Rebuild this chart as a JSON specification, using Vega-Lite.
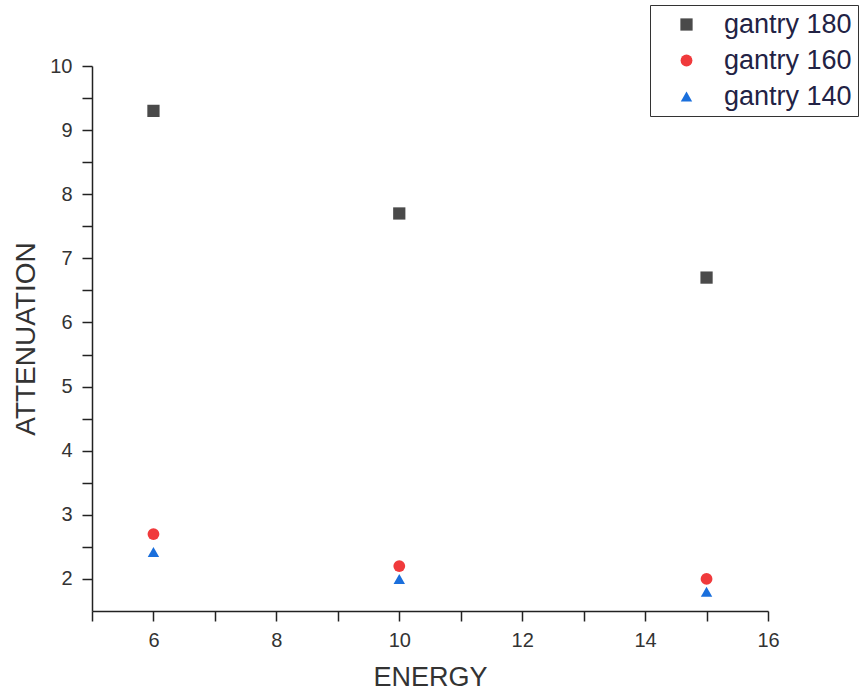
{
  "$schema": "https://vega.github.io/schema/vega-lite/v6.json",
  "width": 676,
  "height": 545,
  "autosize": {"type": "none"},
  "padding": {"left": 92, "top": 66, "right": 96, "bottom": 87},
  "background": "white",
  "config": {
    "view": {"stroke": null},
    "font": "Liberation Sans"
  },
  "data": {
    "values": [
      {"energy": 6, "attenuation": 9.3, "series": "gantry 180"},
      {"energy": 10, "attenuation": 7.7, "series": "gantry 180"},
      {"energy": 15, "attenuation": 6.7, "series": "gantry 180"},
      {"energy": 6, "attenuation": 2.7, "series": "gantry 160"},
      {"energy": 10, "attenuation": 2.2, "series": "gantry 160"},
      {"energy": 15, "attenuation": 2.0, "series": "gantry 160"},
      {"energy": 6, "attenuation": 2.42, "series": "gantry 140"},
      {"energy": 10, "attenuation": 2.0, "series": "gantry 140"},
      {"energy": 15, "attenuation": 1.8, "series": "gantry 140"}
    ]
  },
  "mark": {"type": "point", "filled": true, "opacity": 1},
  "encoding": {
    "x": {
      "field": "energy",
      "type": "quantitative",
      "scale": {"domain": [5, 16], "nice": false, "zero": false},
      "axis": {
        "title": "ENERGY",
        "values": [5, 6, 7, 8, 9, 10, 11, 12, 13, 14, 15, 16],
        "format": "d",
        "labelExpr": "datum.value % 2 === 0 ? datum.label : ''",
        "tickSize": 10,
        "tickColor": "#222222",
        "tickWidth": 1.5,
        "domainColor": "#222222",
        "domainWidth": 1.5,
        "grid": false,
        "labelFontSize": 20,
        "labelColor": "#333333",
        "labelPadding": 9,
        "labelFlush": false,
        "titleFontSize": 27,
        "titleFontWeight": "normal",
        "titleColor": "#333333",
        "titlePadding": 14,
        "encode": {"ticks": {"update": {"y2": {"signal": "datum.value % 2 === 0 ? 10 : 5"}}}}
      }
    },
    "y": {
      "field": "attenuation",
      "type": "quantitative",
      "scale": {"domain": [1.5, 10], "nice": false, "zero": false},
      "axis": {
        "title": "ATTENUATION",
        "values": [2, 2.5, 3, 3.5, 4, 4.5, 5, 5.5, 6, 6.5, 7, 7.5, 8, 8.5, 9, 9.5, 10],
        "format": "~g",
        "labelExpr": "datum.value % 1 === 0 ? datum.label : ''",
        "tickSize": 10,
        "tickColor": "#222222",
        "tickWidth": 1.5,
        "domainColor": "#222222",
        "domainWidth": 1.5,
        "grid": false,
        "labelFontSize": 20,
        "labelColor": "#333333",
        "labelPadding": 10,
        "labelFlush": false,
        "titleFontSize": 28,
        "titleFontWeight": "normal",
        "titleColor": "#333333",
        "titlePadding": 9,
        "encode": {"ticks": {"update": {"x2": {"signal": "datum.value % 1 === 0 ? -10 : -5"}}}}
      }
    },
    "size": {
      "field": "series",
      "type": "nominal",
      "scale": {"domain": ["gantry 180", "gantry 160", "gantry 140"], "range": [150, 130, 180]},
      "legend": null
    },
    "color": {
      "field": "series",
      "type": "nominal",
      "sort": ["gantry 180", "gantry 160", "gantry 140"],
      "scale": {"domain": ["gantry 180", "gantry 160", "gantry 140"], "range": ["#4a4a4a", "#f03a3c", "#1a6fdc"]},
      "legend": {
        "title": null,
        "orient": "none",
        "legendX": 558,
        "legendY": -61,
        "labelFontSize": 27,
        "labelColor": "#222244",
        "labelOffset": 24,
        "symbolSize": 130,
        "symbolOffset": 17,
        "rowPadding": 8,
        "padding": 6,
        "strokeColor": "#333333",
        "fillColor": "white",
        "encode": {"legend": {"update": {"strokeWidth": {"value": 1.5}}}}
      }
    },
    "shape": {
      "field": "series",
      "type": "nominal",
      "scale": {"domain": ["gantry 180", "gantry 160", "gantry 140"], "range": ["square", "circle", "triangle-up"]},
      "legend": null
    }
  }
}
